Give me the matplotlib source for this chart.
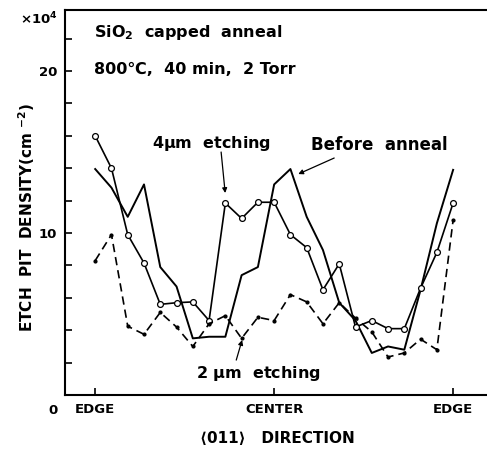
import matplotlib
matplotlib.use("Agg")
import matplotlib.pyplot as plt

# ── Data (position index: 0 = edge, 11 = center, 22 = edge) ──────────────────
pos = list(range(23))
etch_4um = [16.0, 14.0, 9.9, 8.15, 5.6, 5.7, 5.75, 4.6, 11.85, 10.9, 11.9, 11.9,
            9.9, 9.1, 6.5, 8.1, 4.2, 4.6, 4.1, 4.1, 6.6, 8.8, 11.85]
before_anneal = [13.95, 12.8, 11.0, 13.0, 7.9, 6.7, 3.5, 3.6, 3.6, 7.4, 7.9, 13.0,
                 13.95, 11.0, 8.95, 5.7, 4.6, 2.6, 3.0, 2.8, 6.5, 10.6, 13.9]
etch_2um = [8.3, 9.9, 4.25, 3.75, 5.1, 4.2, 3.0, 4.4, 4.9, 3.5, 4.8, 4.6,
            6.2, 5.75, 4.4, 5.7, 4.75, 3.9, 2.35, 2.6, 3.45, 2.8, 10.8]
xtick_pos = [0, 11, 22]
xtick_labels = ["EDGE", "CENTER", "EDGE"]

plt.rcParams["font.family"] = ["DejaVu Sans"]
plt.rcParams["font.weight"] = "bold"
plt.rcParams["mathtext.default"] = "bf"

fig = plt.figure(figsize=(4.87, 4.51), dpi=100)
# axes run past the right edge of the figure: the original has no right frame
ax = fig.add_axes([0.134, 0.124, 0.9, 0.854])

ax.plot(pos, before_anneal, color="black", lw=1.4)
ax.plot(pos, etch_4um, color="black", lw=1.2, marker="o", ms=4.2,
        mfc="white", mec="black", mew=0.9)
ax.plot(pos, etch_2um, color="black", lw=1.2, ls=(0, (5, 3)), marker="o",
        ms=2, mfc="black")

ax.set_xlim(-1.84, 25.1)
ax.set_ylim(0, 23.77)
ax.set_xticks(xtick_pos)
ax.set_xticklabels(xtick_labels, fontsize=9.5, fontweight="bold")
ax.set_yticks([10, 20])
ax.set_yticklabels(["10", "20"], fontsize=9.5, fontweight="bold")
ax.set_yticks([2, 4, 6, 8, 12, 14, 16, 18, 22], minor=True)
ax.tick_params(axis="both", which="both", direction="in", length=5, width=1.2, pad=6)
ax.spines["right"].set_visible(False)
for s in ["left", "top", "bottom"]:
    ax.spines[s].set_linewidth(1.5)

ax.text(-2.58, -0.56, "0", ha="center", va="top", fontsize=9.5, fontweight="bold")
ax.text(-2.3, 23.2, "×10$^4$", ha="right", va="center", fontsize=9.5, fontweight="bold")

ax.set_ylabel("ETCH  PIT  DENSITY(cm $^{-2}$)", fontsize=11, fontweight="bold")
ax.yaxis.set_label_coords(-0.065, 0.46)
ax.set_xlabel("⟨011⟩   DIRECTION", fontsize=11, fontweight="bold")
ax.xaxis.set_label_coords(0.483, -0.093)

ax.text(-0.1, 22.35, "SiO$_2$  capped  anneal", va="center", fontsize=11.5, fontweight="bold")
ax.text(-0.1, 20.1, "800℃,  40 min,  2 Torr", va="center", fontsize=11.5, fontweight="bold")

ax.text(7.13, 15.55, "4$\\mu$m  etching", ha="center", va="center",
        fontsize=11.5, fontweight="bold")
ax.text(17.46, 15.43, "Before  anneal", ha="center", va="center",
        fontsize=12, fontweight="bold")
ax.text(10.0, 1.36, "2 $\\mu$m  etching", ha="center", va="center",
        fontsize=11.5, fontweight="bold")

arrow = dict(arrowstyle="-|>", lw=0.9, color="black", shrinkA=0, shrinkB=0,
             mutation_scale=7)
ax.annotate("", xy=(7.99, 12.47), xytext=(7.74, 15.0), arrowprops=arrow)
ax.annotate("", xy=(12.48, 13.64), xytext=(14.69, 14.63), arrowprops=arrow)
ax.annotate("", xy=(9.03, 3.40), xytext=(8.67, 2.16), arrowprops=arrow)

plt.savefig("out.png", dpi=100)
plt.close()
